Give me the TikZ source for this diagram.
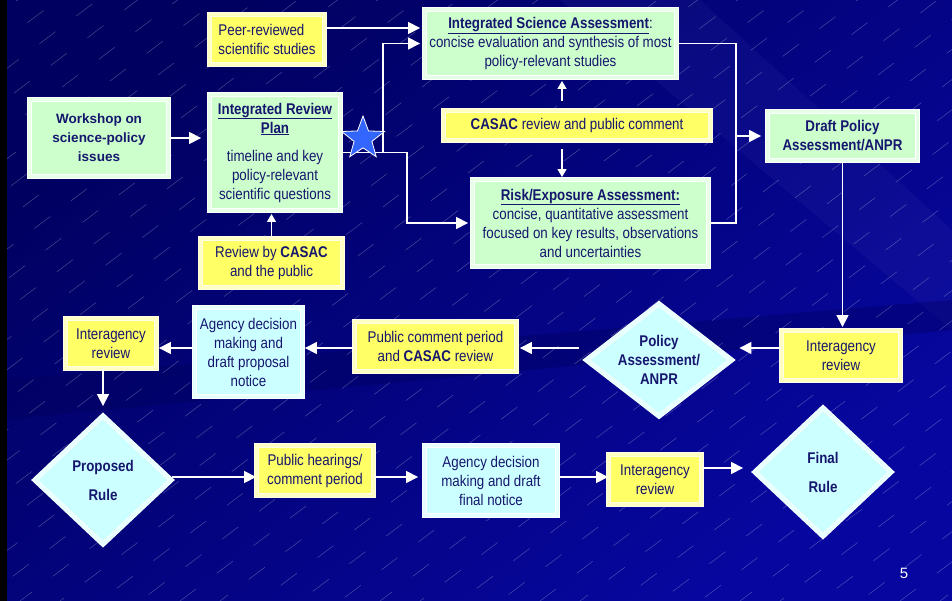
\documentclass[tikz,border=0pt]{standalone}
\usepackage{fontspec}
\setmainfont[FakeStretch=0.86]{Liberation Sans}
\newfontfamily\wideface{Liberation Sans}
\usepackage{xcolor}
\usepackage{tikz}
\usetikzlibrary{calc, arrows.meta, positioning, shapes}

\definecolor{ink}{HTML}{16166E}
\definecolor{bgblue}{HTML}{0707A0}
\definecolor{bgnavy}{HTML}{00005A}
\definecolor{boxgreen}{HTML}{CCFFCC}
\definecolor{palegreen}{HTML}{E6FFE6}
\definecolor{boxyellow}{HTML}{FFFF66}
\definecolor{paleyellow}{HTML}{FFFFC4}
\definecolor{yellowline}{HTML}{FFFFE8}
\definecolor{boxcyan}{HTML}{CCFFFF}
\definecolor{palecyan}{HTML}{E6FFFF}
\definecolor{starblue}{HTML}{3366FF}

\begin{document}
\begin{tikzpicture}[x=1pt, y=-1pt, >={Triangle[length=12pt,width=12pt]},
    font=\fontsize{15.5}{19}\selectfont]
		\tikzstyle{frame} = [line width=0.9pt, double distance=3pt, align=center, inner sep=1pt, text=ink]
		\tikzstyle{greenbox} = [frame, rectangle, draw=white, double=palegreen, fill=boxgreen]
		\tikzstyle{yellowbox} = [frame, rectangle, draw=yellowline, double=paleyellow, fill=boxyellow]
		\tikzstyle{cyanbox} = [frame, rectangle, draw=white, double=palecyan, fill=boxcyan]
		\tikzstyle{decision} = [frame, diamond, draw=white, double=palecyan, fill=boxcyan, font=\fontsize{15.5}{19}\selectfont\bfseries]
		\tikzstyle{link} = [draw=white, line width=1.6pt]
		\tikzstyle{flow} = [link, ->]
		\tikzstyle{thin} = [draw=white, line width=1.1pt, -{Triangle[length=8pt,width=9pt]}]
		\tikzstyle{hatch} = [white, opacity=0.28, line width=0.5pt]

		% background
		\useasboundingbox (0,0) rectangle (952,601);
		\fill[bgblue] (0,0) rectangle (952,601);
		\shade[top color=bgnavy, middle color=bgblue!85!black, bottom color=bgblue, shading angle=40, opacity=0.9]
			(0,0) rectangle (952,601);
		\fill[bgblue!70!white, opacity=0.1] (560,0) -- (700,0) -- (952,230) -- (952,330) -- cycle;
		\fill[bgnavy, opacity=0.35] (0,380) -- (952,300) -- (952,330) -- (0,420) -- cycle;
		\begin{scope}
			\clip (0,0) rectangle (952,601);
			\foreach \k [evaluate=\k as \ph using {mod(abs(\k)*7,45)}] in {-820,-780,...,960}
				\draw[hatch, dash pattern=on 20pt off 26pt, dash phase=\ph pt] (\k,601) -- ++(-37:1300);
		\end{scope}
		\fill[black] (0,0) rectangle (7,601);

		% top part
		\node[greenbox, minimum width=139pt, minimum height=77pt, font=\wideface\fontsize{13.5}{19}\selectfont\bfseries]
			at (99,138) (workshop) {Workshop on\\science-policy\\issues};
		\node[yellowbox, minimum width=115pt, minimum height=50pt, align=left]
			at (267,39.5) (peer) {Peer-reviewed\\scientific studies};
		\node[greenbox, minimum width=131pt, minimum height=116pt]
			at (275,152.5) (irp) {\underline{\textbf{Integrated Review}}\\\underline{\textbf{Plan}}\\[9pt]timeline and key\\policy-relevant\\scientific questions};
		\node[yellowbox, minimum width=142pt, minimum height=49pt]
			at (271.5,263) (review) {Review by \textbf{CASAC}\\and the public};
		\node[greenbox, minimum width=252pt, minimum height=68pt]
			at (550.5,43.5) (isa) {\underline{\textbf{Integrated Science Assessment}}:\\concise evaluation and synthesis of most\\policy-relevant studies};
		\node[yellowbox, minimum width=267pt, minimum height=30pt]
			at (577,125.5) (casac) {\textbf{CASAC} review and public comment};
		\node[greenbox, minimum width=236pt, minimum height=87pt]
			at (590.5,223) (risk) {\underline{\textbf{Risk/Exposure Assessment:}}\\concise, quantitative assessment\\focused on key results, observations\\and uncertainties};
		\node[greenbox, minimum width=150pt, minimum height=49pt, font=\fontsize{15.5}{19}\selectfont\bfseries]
			at (842.5,136) (draft) {Draft Policy\\Assessment/ANPR};

		% middle row
		\node[yellowbox, minimum width=119pt, minimum height=50pt]
			at (841,355.5) (ia1) {Interagency\\review};
		\node[decision, minimum width=146pt, minimum height=113pt, inner sep=-3pt, aspect=1.3]
			at (659,360) (policy) {Policy\\Assessment/\\ANPR};
		\node[yellowbox, minimum width=162pt, minimum height=50pt]
			at (435.5,346.5) (pub) {Public comment period\\and \textbf{CASAC} review};
		\node[cyanbox, minimum width=108pt, minimum height=89pt]
			at (248.5,352) (agd) {Agency decision\\making and\\draft proposal\\notice};
		\node[yellowbox, minimum width=91pt, minimum height=50pt]
			at (111,343.5) (ia2) {Interagency\\review};

		% bottom row
		\node[decision, minimum width=137pt, minimum height=129pt, inner sep=0pt]
			at (103,480) (proposed) {Proposed\\[10pt]Rule};
		\node[yellowbox, minimum width=117pt, minimum height=50pt]
			at (315,470.5) (hearings) {Public hearings/\\comment period};
		\node[cyanbox, minimum width=133pt, minimum height=70pt]
			at (491,480.5) (agf) {Agency decision\\making and draft\\final notice};
		\node[yellowbox, minimum width=93pt, minimum height=50pt]
			at (655,479.5) (ia3) {Interagency\\review};
		\node[decision, minimum width=137pt, minimum height=129pt, inner sep=0pt]
			at (823,472) (final) {Final\\[10pt]Rule};
		\node[text=white, font=\wideface\fontsize{15}{17}\selectfont] at (904,573) (page) {5};

		% connectors, top part
		\coordinate (upbend) at (383,43.5);
		\coordinate (downbend) at (407,223);
		\coordinate (merge) at (736,136);
		\draw[flow, shorten >=8pt] (workshop.east) -- (workshop.east -| irp.west);
		\draw[flow, shorten >=4pt] ([yshift=11.5pt]peer.east) -- ([yshift=11.5pt]peer.east -| isa.west);
		\draw[flow, shorten >=4pt] (irp.east) -| (upbend) -- (isa.west);
		\draw[flow, shorten >=4pt] (irp.east) -| (downbend) -- (risk.west);
		\draw[thin, shorten >=3pt] (review.north) -- (review.north |- irp.south);
		\draw[thin, shorten <=9pt, shorten >=3pt] ([xshift=-15pt]casac.north) -- ([xshift=-15pt]casac.north |- isa.south);
		\draw[thin, shorten <=8pt, shorten >=2pt] ([xshift=-15pt]casac.south) -- ([xshift=-15pt]casac.south |- risk.north);
		\draw[link] (isa.east) -| (merge) |- (risk.east);
		\draw[flow, shorten >=6pt] (merge) -- (draft.west);
		\draw[flow, shorten >=3pt] (draft.south) -- (draft.south |- ia1.north);
		\node[star, star points=5, star point ratio=2.4, minimum size=45pt, inner sep=0pt,
			fill=starblue, draw=white, line width=0.8pt] at (363,138.5) (star) {};

		% connectors, middle and bottom rows
		\coordinate (midrow) at (0,348);
		\coordinate (lowrow) at (0,477);
		\coordinate (lastrow) at (0,468);
		\draw[flow, shorten >=7pt] (ia1.west |- midrow) -- (policy.east |- midrow);
		\draw[flow, shorten <=7pt, shorten >=3pt] (policy.west |- midrow) -- (pub.east |- midrow);
		\draw[flow, shorten >=2pt] (pub.west |- midrow) -- (agd.east |- midrow);
		\draw[flow, shorten >=2pt] (agd.west |- midrow) -- (ia2.east |- midrow);
		\draw[flow, shorten >=9pt] (ia2.south -| proposed.north) -- (proposed.north);
		\draw[flow] (proposed.east |- lowrow) -- (hearings.west |- lowrow);
		\draw[flow, shorten >=6pt] (hearings.east |- lowrow) -- (agf.west |- lowrow);
		\draw[flow] (agf.east |- lowrow) -- (ia3.west |- lowrow);
		\draw[flow, shorten >=11pt] (ia3.east |- lastrow) -- (final.west |- lastrow);
\end{tikzpicture}
\end{document}
